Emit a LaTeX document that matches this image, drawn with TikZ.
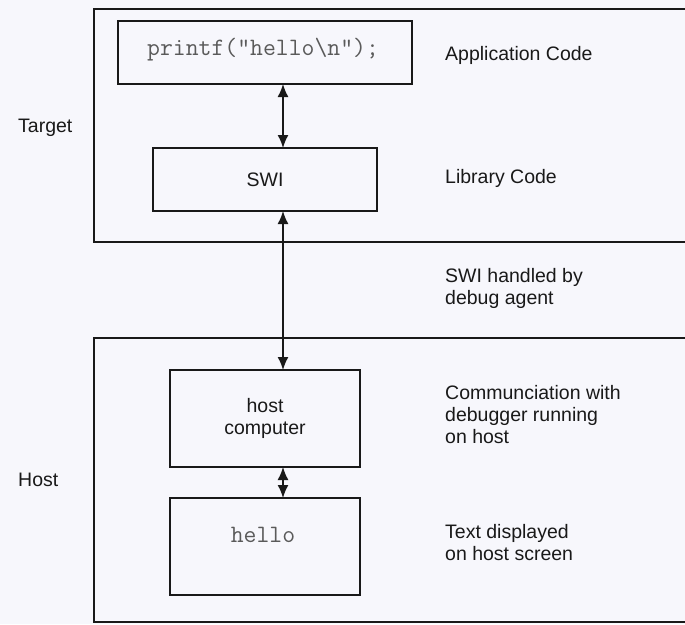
\documentclass[tikz,border=0pt]{standalone}
\usepackage{fontspec}
\setmainfont{Liberation Sans}
\usetikzlibrary{arrows.meta}
\definecolor{paper}{RGB}{247,247,252}
\definecolor{ink}{RGB}{25,25,25}
\definecolor{codeink}{RGB}{90,90,90}
\tikzset{
  box/.style={draw=ink, line width=1.6pt, fill=paper},
  frame/.style={draw=ink, line width=1.6pt},
  label/.style={anchor=west, align=left, text=ink, inner sep=0pt,
    font=\fontsize{19.5}{22}\selectfont},
  boxtext/.style={text=ink, align=center, inner sep=0pt,
    font=\fontsize{19.5}{22}\selectfont},
  code/.style={text=codeink, inner sep=0pt,
    font=\ttfamily\fontsize{25}{27}\selectfont},
  link/.style={draw=ink, line width=1.6pt,
    {Latex[length=13pt,width=11pt]}-{Latex[length=13pt,width=11pt]}}
}
\begin{document}
\begin{tikzpicture}[x=1pt,y=-1pt]
  \useasboundingbox (0,0) rectangle (685,624);
  \fill[paper] (0,0) rectangle (685,624);

  % Target and Host frames run off the right edge
  \draw[frame] (686,9) -- (94,9) -- (94,242) -- (686,242);
  \draw[frame] (686,338) -- (94,338) -- (94,622) -- (686,622);

  % boxes
  \draw[box] (118,21) rectangle (412,84);
  \node[code] (app) at (263,50) {printf("hello\textbackslash n");};
  \draw[box] (153,148) rectangle (377,211);
  \node[boxtext] (swi) at (265,180) {SWI};
  \draw[box] (170,370) rectangle (360,467);
  \node[boxtext] (hostc) at (265,418) {host\\computer};
  \draw[box] (170,498) rectangle (360,595);
  \node[code] (hello) at (263,535) {hello};

  % connection points on box edges
  \coordinate (appB) at (283,84);
  \coordinate (swiT) at (283,148);
  \coordinate (swiB) at (283,211);
  \coordinate (hostT) at (283,370);
  \coordinate (hostB) at (283,467);
  \coordinate (helloT) at (283,498);

  \draw[link] (appB) -- (swiT);
  \draw[link] (swiB) -- (hostT);
  \draw[link] (hostB) -- (helloT);

  % side labels
  \node[label] (tgt) at (18,128) {Target};
  \node[label] (hst) at (18,480) {Host};

  \node[label] (l1) at (445,55) {Application Code};
  \node[label] (l2) at (445,178) {Library Code};
  \node[label] (l3) at (445,288) {SWI handled by\\debug agent};
  \node[label] (l4) at (445,415) {Communciation with\\debugger running\\on host};
  \node[label] (l5) at (445,543) {Text displayed\\on host screen};
\end{tikzpicture}
\end{document}
